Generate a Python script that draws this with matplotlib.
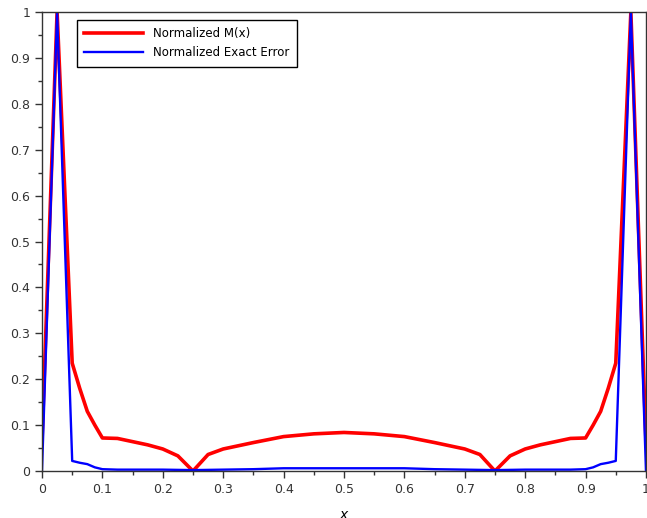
import matplotlib.pyplot as plt
from matplotlib.ticker import MultipleLocator

# Normalized indicator M(x)
x_m = [0, 0.025, 0.05, 0.0625, 0.075, 0.0875, 0.1, 0.125, 0.15, 0.175, 0.2, 0.225, 0.25,
       0.275, 0.3, 0.35, 0.4, 0.45, 0.5, 0.55, 0.6, 0.65, 0.7, 0.725, 0.75,
       0.775, 0.8, 0.825, 0.85, 0.875, 0.9, 0.9125, 0.925, 0.9375, 0.95, 0.975, 1.0]
m_vals = [0.065, 1.0, 0.235, 0.18, 0.13, 0.1, 0.072, 0.071, 0.064, 0.057, 0.048, 0.033, 0.0,
          0.036, 0.048, 0.062, 0.075, 0.081, 0.084, 0.081, 0.075, 0.062, 0.048, 0.036, 0.0,
          0.033, 0.048, 0.057, 0.064, 0.071, 0.072, 0.1, 0.13, 0.18, 0.235, 1.0, 0.065]

# Normalized exact error
x_e = [0, 0.025, 0.05, 0.0625, 0.075, 0.0875, 0.1, 0.125, 0.2, 0.25, 0.3, 0.35, 0.4,
       0.5, 0.6, 0.65, 0.7, 0.75, 0.8, 0.875, 0.9, 0.9125, 0.925, 0.9375, 0.95, 0.975, 1.0]
err_vals = [0, 1.0, 0.022, 0.018, 0.015, 0.008, 0.004, 0.003, 0.003, 0.002, 0.003, 0.004, 0.006,
            0.006, 0.006, 0.004, 0.003, 0.002, 0.003, 0.003, 0.004, 0.008, 0.015, 0.018, 0.022, 1.0, 0]

fig = plt.figure(figsize=(6.47, 5.18), dpi=100)
ax = fig.add_axes([0.0649, 0.0907, 0.9335, 0.886])

ax.plot(x_m, m_vals, color='#ff0000', lw=2.6, label='Normalized M(x)')
ax.plot(x_e, err_vals, color='#0000ff', lw=1.7, label='Normalized Exact Error')

ax.set_xlim(0, 1)
ax.set_ylim(0, 1)
ax.xaxis.set_major_locator(MultipleLocator(0.1))
ax.xaxis.set_minor_locator(MultipleLocator(0.05))
ax.yaxis.set_major_locator(MultipleLocator(0.1))
ax.yaxis.set_minor_locator(MultipleLocator(0.05))
ax.xaxis.set_major_formatter(lambda v, p: f'{v:g}')
ax.yaxis.set_major_formatter(lambda v, p: f'{v:g}')
ax.tick_params(which='major', direction='out', length=5, width=1, labelsize=9,
               labelcolor='#333333', color='#333333')
ax.tick_params(which='minor', direction='out', length=3, width=1, color='#333333')
for s in ax.spines.values():
    s.set_color('#333333')
    s.set_linewidth(1)

ax.set_xlabel('$x$', fontsize=10, labelpad=9)

leg = ax.legend(loc='upper left', bbox_to_anchor=(0.058, 0.983), borderaxespad=0,
                fontsize=8.5, fancybox=False, framealpha=1, edgecolor='black',
                handlelength=5, handletextpad=0.85, borderpad=0.6, labelspacing=0.55)
leg.get_frame().set_linewidth(1)

fig.savefig('out.png', dpi=100)
